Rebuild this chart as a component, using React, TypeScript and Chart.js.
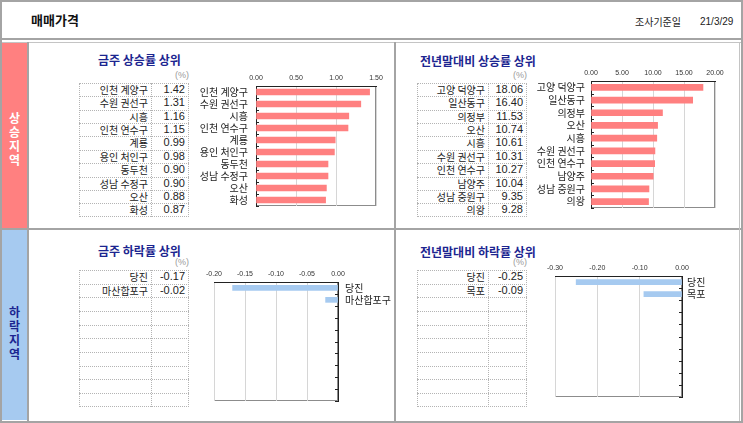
import React, { useEffect, useRef } from "react";
import { Chart, registerables } from "chart.js";

Chart.register(...registerables);

// ---------------- DATA ----------------
const weeklyUpLabels = ["인천 계양구", "수원 권선구", "시흥", "인천 연수구", "계룡", "용인 처인구", "동두천", "성남 수정구", "오산", "화성"];
const weeklyUpValues = [1.42, 1.31, 1.16, 1.15, 0.99, 0.98, 0.9, 0.9, 0.88, 0.87];
const weeklyUpTicks = [0, 0.5, 1.0, 1.5];

const yearUpLabels = ["고양 덕양구", "일산동구", "의정부", "오산", "시흥", "수원 권선구", "인천 연수구", "남양주", "성남 중원구", "의왕"];
const yearUpValues = [18.06, 16.4, 11.53, 10.74, 10.61, 10.31, 10.27, 10.04, 9.35, 9.28];
const yearUpTicks = [0, 5, 10, 15, 20];

const weeklyDownLabels = ["당진", "마산합포구", "", "", "", "", "", "", "", ""];
const weeklyDownValues = [-0.17, -0.02, null, null, null, null, null, null, null, null];
const weeklyDownTicks = [-0.2, -0.15, -0.1, -0.05, 0];

const yearDownLabels = ["당진", "목포", "", "", "", "", "", "", "", ""];
const yearDownValues = [-0.25, -0.09, null, null, null, null, null, null, null, null];
const yearDownTicks = [-0.3, -0.2, -0.1, 0];

const headerTitle = "매매가격";
const headerDateLabel = "조사기준일";
const headerDate = "21/3/29";
const upSideLabel = "상승지역";
const downSideLabel = "하락지역";
const titles = ["금주 상승률 상위", "전년말대비 상승률 상위", "금주 하락률 상위", "전년말대비 하락률 상위"];

// ---------------- STYLE ----------------
const KR = '"Noto Sans CJK KR", "Noto Sans", sans-serif';
const NUM = '"Liberation Sans Narrow", "Liberation Sans", Arial, sans-serif';
const TICK = '"Liberation Sans", Arial, sans-serif';
const PINK = "#ff8080";
const BLUE = "#a6caf0";
const NAVY = "#1c2590";
const LINE = "#a4a4a4";

const framePlugin = {
  id: "frameTicks",
  beforeDraw(chart: any) {
    const { ctx, chartArea: a } = chart;
    ctx.save();
    ctx.strokeStyle = "#8c8c8c";
    ctx.lineWidth = 1;
    ctx.strokeRect(Math.round(a.left) + 0.5, Math.round(a.top) + 0.5, Math.round(a.right - a.left) - 1, Math.round(a.bottom - a.top) - 1);
    ctx.restore();
  },
  afterDraw(chart: any) {
    const { ctx, chartArea: a } = chart;
    const y = chart.scales.y;
    const n = y.ticks.length;
    const h = (y.bottom - y.top) / n;
    const left = y.position === "left";
    const ax = left ? Math.round(a.left) : Math.round(a.right);
    const dir = left ? 1 : -1;
    ctx.save();
    ctx.strokeStyle = "#222";
    ctx.lineWidth = 1;
    for (let i = 0; i <= n; i++) {
      const yy = Math.round(y.top + i * h) + 0.5;
      ctx.beginPath();
      ctx.moveTo(ax, yy);
      ctx.lineTo(ax + dir * 3, yy);
      ctx.stroke();
    }
    ctx.restore();
  },
};

type ChartProps = {
  left: number; top: number; width: number; height: number;
  labels: string[]; values: (number | null)[]; ticks: number[];
  color: string; yPos: "left" | "right"; yWidth: number; xHeight: number; yPad: number;
  padL: number; padR: number; padB: number; barT: number;
};

function BarChart(p: ChartProps) {
  const ref = useRef<HTMLCanvasElement | null>(null);
  useEffect(() => {
    if (!ref.current) return;
    const chart = new Chart(ref.current, {
      type: "bar",
      data: {
        labels: p.labels,
        datasets: [{ data: p.values as any, backgroundColor: p.color, barThickness: p.barT }],
      },
      options: {
        indexAxis: "y",
        animation: false,
        responsive: false,
        maintainAspectRatio: false,
        layout: { padding: { left: p.padL, right: p.padR, top: 0, bottom: p.padB } },
        plugins: { legend: { display: false }, tooltip: { enabled: false } },
        scales: {
          x: {
            position: "top",
            min: p.ticks[0],
            max: p.ticks[p.ticks.length - 1],
            afterBuildTicks: (ax: any) => { ax.ticks = p.ticks.map((v) => ({ value: v })); },
            afterFit: (ax: any) => { ax.height = p.xHeight; },
            ticks: {
              callback: (v: any) => Number(v).toFixed(2),
              font: { size: 7, family: TICK },
              color: "#333",
              padding: 4,
              maxRotation: 0,
              autoSkip: false,
            },
            grid: { color: "#d6d6d6", drawTicks: false },
            border: { color: "#222", width: 1 },
          },
          y: {
            position: p.yPos,
            afterFit: (ax: any) => { ax.width = p.yWidth; },
            grid: { display: false, drawTicks: false },
            border: { color: "#222", width: 1 },
            ticks: { font: { size: 10, family: KR }, color: "#222", padding: p.yPad, autoSkip: false },
          },
        },
      } as any,
      plugins: [framePlugin as any],
    });
    return () => chart.destroy();
  }, []);
  return (
    <canvas
      ref={ref}
      width={p.width}
      height={p.height}
      style={{ position: "absolute", left: p.left, top: p.top, width: p.width, height: p.height }}
    />
  );
}

type TableProps = {
  left: number; top: number; right: number; divider: number; rowH: number;
  labels: string[]; values: (number | null)[];
};

function DataTable(t: TableProps) {
  const w = t.right - t.left;
  const h = t.rowH * t.labels.length;
  const border = "1px dotted #b4b4b4";
  return (
    <>
      <div style={{ position: "absolute", left: t.right - 20, top: t.top - 14, width: 20, textAlign: "right", fontSize: 9, color: "#9a9a9a", fontFamily: NUM, lineHeight: "12px" }}>(%)</div>
      <div style={{ position: "absolute", left: t.left, top: t.top, width: w, height: h, border, boxSizing: "border-box" }} />
      <div style={{ position: "absolute", left: t.divider, top: t.top, width: 0, height: h, borderLeft: border }} />
      {t.labels.map((lab, i) => (
        <React.Fragment key={i}>
          {i > 0 && (
            <div style={{ position: "absolute", left: t.left, top: Math.round(t.top + i * t.rowH), width: w, height: 0, borderTop: border }} />
          )}
          <div style={{ position: "absolute", left: t.left, top: t.top + i * t.rowH, width: t.divider - t.left - 3, height: t.rowH, lineHeight: t.rowH + "px", textAlign: "right", fontSize: 10, fontFamily: KR, color: "#222", whiteSpace: "nowrap" }}>{lab}</div>
          <div style={{ position: "absolute", left: t.divider, top: t.top + i * t.rowH, width: t.right - t.divider - 4, height: t.rowH, lineHeight: t.rowH + "px", textAlign: "right", fontSize: 11, fontFamily: NUM, color: "#222" }}>
            {t.values[i] === null || t.values[i] === undefined ? "" : (t.values[i] as number).toFixed(2)}
          </div>
        </React.Fragment>
      ))}
    </>
  );
}

function Title({ left, top, text }: { left: number; top: number; text: string }) {
  return (
    <div style={{ position: "absolute", left, top, fontSize: 12, fontWeight: "bold", color: NAVY, fontFamily: KR, lineHeight: "14px", whiteSpace: "nowrap" }}>{text}</div>
  );
}

function VText({ top, text, color }: { top: number; text: string; color: string }) {
  return (
    <div style={{ position: "absolute", left: 2, top, width: 25, textAlign: "center", fontSize: 12, fontWeight: "bold", color, fontFamily: KR, lineHeight: "14px" }}>
      {text.split("").map((c, i) => (<div key={i}>{c}</div>))}
    </div>
  );
}

export default function App() {
  return (
    <div style={{ position: "absolute", left: 0, top: 0, width: 743, height: 423, background: "#fff", overflow: "hidden" }}>
      {/* outer frame */}
      <div style={{ position: "absolute", left: 0, top: 0, width: 743, height: 423, border: `2px solid ${LINE}`, boxSizing: "border-box" }} />
      {/* header */}
      <div style={{ position: "absolute", left: 31, top: 11, fontSize: 13, fontWeight: "bold", fontFamily: KR, color: "#111", lineHeight: "17px" }}>{headerTitle}</div>
      <div style={{ position: "absolute", left: 635, top: 15, fontSize: 10, fontFamily: KR, color: "#222", lineHeight: "14px" }}>{headerDateLabel}</div>
      <div style={{ position: "absolute", left: 700, top: 15, fontSize: 10, fontFamily: NUM, color: "#222", lineHeight: "14px" }}>{headerDate}</div>
      <div style={{ position: "absolute", left: 0, top: 38, width: 743, height: 2, background: LINE }} />
      <div style={{ position: "absolute", left: 2, top: 42, width: 739, height: 1, background: "#c4c4c4" }} />
      {/* sidebar */}
      <div style={{ position: "absolute", left: 2, top: 43, width: 25, height: 185, background: PINK }} />
      <div style={{ position: "absolute", left: 2, top: 230, width: 25, height: 190, background: BLUE }} />
      <div style={{ position: "absolute", left: 27, top: 42, width: 2, height: 379, background: LINE }} />
      <div style={{ position: "absolute", left: 2, top: 228, width: 739, height: 2, background: LINE }} />
      <div style={{ position: "absolute", left: 394, top: 42, width: 2, height: 379, background: LINE }} />
      <div style={{ position: "absolute", left: 739, top: 42, width: 1, height: 379, background: "#c4c4c4" }} />
      <VText top={111} text={upSideLabel} color="#ffffff" />
      <VText top={305} text={downSideLabel} color={NAVY} />

      {/* top-left */}
      <Title left={98} top={53} text={titles[0]} />
      <DataTable left={79} top={83} right={189} divider={151} rowH={13.37} labels={weeklyUpLabels} values={weeklyUpValues} />
      <BarChart left={190} top={64} width={200} height={156} labels={weeklyUpLabels} values={weeklyUpValues} ticks={weeklyUpTicks}
        color={PINK} yPos="left" yWidth={66} xHeight={22} yPad={8} padL={0} padR={14} padB={8} barT={6} />

      {/* top-right */}
      <Title left={420} top={54} text={titles[1]} />
      <DataTable left={417} top={83} right={527} divider={488} rowH={13.37} labels={yearUpLabels} values={yearUpValues} />
      <BarChart left={530} top={62} width={208} height={158} labels={yearUpLabels} values={yearUpValues} ticks={yearUpTicks}
        color={PINK} yPos="left" yWidth={61} xHeight={19} yPad={6} padL={0} padR={23} padB={5} barT={6} />

      {/* bottom-left */}
      <Title left={98} top={244} text={titles[2]} />
      <DataTable left={79} top={270} right={189} divider={151} rowH={13.65} labels={weeklyDownLabels} values={weeklyDownValues} />
      <BarChart left={200} top={262} width={194} height={152} labels={weeklyDownLabels} values={weeklyDownValues} ticks={weeklyDownTicks}
        color={BLUE} yPos="right" yWidth={56} xHeight={20} yPad={7} padL={14} padR={0} padB={5} barT={5} />

      {/* bottom-right */}
      <Title left={420} top={245} text={titles[3]} />
      <DataTable left={417} top={270} right={527} divider={488} rowH={13.65} labels={yearDownLabels} values={yearDownValues} />
      <BarChart left={540} top={258} width={198} height={150} labels={yearDownLabels} values={yearDownValues} ticks={yearDownTicks}
        color={BLUE} yPos="right" yWidth={56} xHeight={18} yPad={5} padL={15} padR={0} padB={5} barT={5} />
    </div>
  );
}
